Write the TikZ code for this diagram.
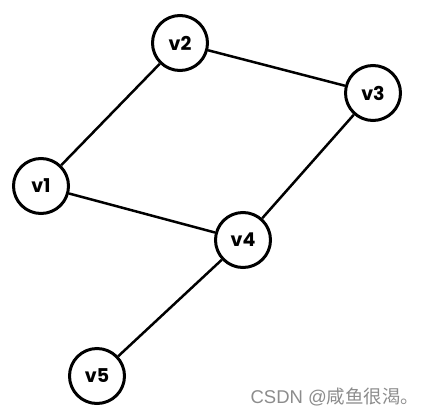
\documentclass[tikz,border=0pt]{standalone}
\usepackage{fontspec}
\setmainfont{Poppins}
\newfontfamily\cjk{Noto Sans CJK SC}
\newfontfamily\latinmark{Liberation Sans}
\begin{document}
\begin{tikzpicture}
    [
        x=1pt, y=-1pt,
        vertex/.style={circle, draw, line width=3pt, minimum size=55pt, inner sep=0pt, font=\fontsize{19}{19}\selectfont\bfseries},
        edge/.style={-, line width=2.5pt},
    ]

    \useasboundingbox (0,0) rectangle (425,415);

    % vertices
    \node (v1) at (41,186)  [vertex] {v1};
    \node (v2) at (180,43)  [vertex] {v2};
    \node (v3) at (373,93)  [vertex] {v3};
    \node (v4) at (243,240) [vertex] {v4};
    \node (v5) at (97,376)  [vertex] {v5};

    \path[edge]
    (v1) edge (v2)
    (v2) edge (v3)
    (v1) edge (v4)
    (v3) edge (v4)
    (v4) edge (v5);

    % watermark
    \node (mark) at (335,397) [text=black!45, font=\fontsize{18.5}{18.5}\selectfont] {\latinmark CSDN @\cjk 咸鱼很渴。};

\end{tikzpicture}
\end{document}
